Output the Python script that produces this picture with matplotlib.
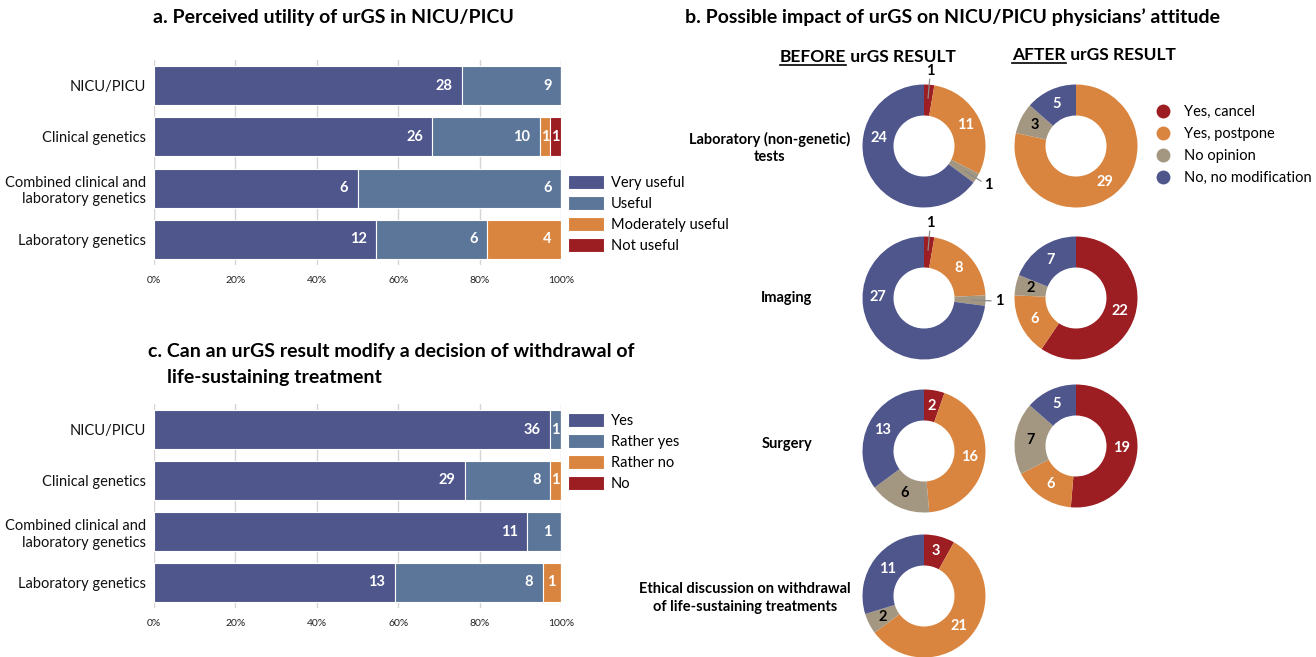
import matplotlib
matplotlib.use("Agg")
import matplotlib.pyplot as plt
from matplotlib.lines import Line2D
import numpy as np

W, H = 1316, 657
plt.rcParams['font.family'] = ['Lato', 'DejaVu Sans']

# palette
C_DARK = '#4e568c'
C_STEEL = '#5b7699'
C_ORANGE = '#d98540'
C_RED = '#9c1d22'
C_GREY = '#a39781'

# ---- data -------------------------------------------------------------
groups = ["NICU/PICU", "Clinical genetics",
          "Combined clinical and\nlaboratory genetics", "Laboratory genetics"]

utility_levels = ["Very useful", "Useful", "Moderately useful", "Not useful"]
very_useful = [28, 26, 6, 12]
useful = [9, 10, 6, 6]
moderately_useful = [0, 1, 0, 4]
not_useful = [0, 1, 0, 0]

withdrawal_levels = ["Yes", "Rather yes", "Rather no", "No"]
wd_yes = [36, 29, 11, 13]
wd_rather_yes = [1, 8, 1, 8]
wd_rather_no = [0, 1, 0, 1]
wd_no = [0, 0, 0, 0]

pct_ticks = [0, 20, 40, 60, 80, 100]

impact_levels = ["Yes, cancel", "Yes, postpone", "No opinion", "No, no modification"]
lab_before = [1, 11, 1, 24]
lab_after = [0, 29, 3, 5]
imaging_before = [1, 8, 1, 27]
imaging_after = [22, 6, 2, 7]
surgery_before = [2, 16, 6, 13]
surgery_after = [19, 6, 7, 5]
ethics_before = [3, 21, 2, 11]

impact_rows = ["Laboratory (non-genetic)\ntests", "Imaging", "Surgery",
               "Ethical discussion on withdrawal\nof life-sustaining treatments"]

# ---- helpers ----------------------------------------------------------
fig = plt.figure(figsize=(W / 100, H / 100), dpi=100)


def fx(x):
    return x / W


def fy(y):
    return 1 - y / H


def stacked_panel(top, bottom, series, levels, colors, legend_top):
    ax = fig.add_axes([fx(154), fy(bottom), fx(561) - fx(154), fy(top) - fy(bottom)])
    data = np.array(series, dtype=float)
    totals = data.sum(axis=0)
    pct = data / totals * 100
    y = np.arange(len(groups))
    left = np.zeros(len(groups))
    handles = []
    for vals, p, lab, col in zip(data, pct, levels, colors):
        bars = ax.barh(y, p, left=left, height=0.76, color=col, edgecolor='white',
                       linewidth=0.8, label=lab, zorder=2)
        handles.append(bars.patches[0])
        for yi, v, l0, w in zip(y, vals, left, p):
            if v == 0:
                continue
            if w < 5:
                ax.text(l0 + w / 2, yi, f"{int(v)}", ha='center', va='center',
                        color='white', fontsize=10.5, fontweight='bold', zorder=3)
            else:
                ax.text(l0 + w - 2.3, yi, f"{int(v)}", ha='right', va='center',
                        color='white', fontsize=10.5, fontweight='bold', zorder=3)
        left += p
    ax.set_xlim(0, 100)
    ax.set_ylim(len(groups) - 0.5, -0.5)
    ax.set_yticks(y)
    ax.set_yticklabels(groups, fontsize=10.5, linespacing=1.25)
    ax.set_xticks(pct_ticks)
    ax.set_xticklabels([f"{t}%" for t in pct_ticks])
    ax.tick_params(axis='x', length=0, labelsize=7.5, pad=8, colors='#222222')
    ax.tick_params(axis='y', length=0, pad=6, colors='#111111')
    ax.grid(axis='x', color='#d9d4d4', linewidth=1, zorder=0)
    for s in ax.spines.values():
        s.set_visible(False)
    fig.legend(handles, levels, loc='upper left',
               bbox_to_anchor=(fx(568), fy(legend_top)),
               bbox_transform=fig.transFigure, frameon=False, fontsize=10.5,
               handlelength=2.45, handleheight=1.1, handletextpad=0.5,
               labelspacing=0.42, borderpad=0, borderaxespad=0)
    return ax


# ---- panel a ----------------------------------------------------------
fig.text(fx(153), fy(17), "a. Perceived utility of urGS in NICU/PICU",
         fontsize=14, fontweight='bold', ha='left', va='center')
stacked_panel(60, 265, [very_useful, useful, moderately_useful, not_useful],
              utility_levels, [C_DARK, C_STEEL, C_ORANGE, C_RED], 175)

# ---- panel c ----------------------------------------------------------
fig.text(fx(148), fy(352), "c. Can an urGS result modify a decision of withdrawal of",
         fontsize=14, fontweight='bold', ha='left', va='center')
fig.text(fx(167), fy(377), "life-sustaining treatment",
         fontsize=14, fontweight='bold', ha='left', va='center')
stacked_panel(404, 608, [wd_yes, wd_rather_yes, wd_rather_no, wd_no],
              withdrawal_levels, [C_DARK, C_STEEL, C_ORANGE, C_RED], 413)

# ---- panel b ----------------------------------------------------------
fig.text(fx(685), fy(17), "b. Possible impact of urGS on NICU/PICU physicians\u2019 attitude",
         fontsize=14, fontweight='bold', ha='left', va='center')

renderer = fig.canvas.get_renderer()
for x0, base, word in [(780, 62, "BEFORE"), (1012, 60, "AFTER")]:
    t1 = fig.text(fx(x0), fy(base), word, fontsize=12.5, fontweight='bold',
                  ha='left', va='baseline')
    bb = t1.get_window_extent(renderer)
    fig.text(bb.x1 / W, fy(base), " urGS RESULT", fontsize=12.5, fontweight='bold',
             ha='left', va='baseline')
    fig.add_artist(Line2D([bb.x0 / W, bb.x1 / W], [fy(base + 2.5)] * 2,
                          color='black', linewidth=1.2))

dax = fig.add_axes([0, 0, 1, 1])
impact_colors = [C_RED, C_ORANGE, C_GREY, C_DARK]
R_OUT, RING = 61.5, 31

# counts, centre (x, y from top), manual label angles for crowded slices
donuts = [
    (lab_before, 924, 146, {3: 280}),
    (lab_after, 1076, 146, {}),
    (imaging_before, 924, 298, {3: 271}),
    (imaging_after, 1076, 298, {}),
    (surgery_before, 924, 451, {}),
    (surgery_after, 1076, 446, {}),
    (ethics_before, 924, 596, {}),
]

for counts, cx, cy, overrides in donuts:
    cyu = H - cy
    dax.pie(counts, colors=impact_colors, startangle=90, counterclock=False,
            radius=R_OUT, center=(cx, cyu),
            wedgeprops=dict(width=RING, edgecolor='none'))
    total = sum(counts)
    cum = 0
    for i, v in enumerate(counts):
        if v == 0:
            continue
        span = v / total * 360
        mid = (cum + v / 2) / total * 360
        cum += v
        if span < 15:
            a = np.deg2rad(mid)
            r0, r1, rt = 48, 67, 75
            dax.plot([cx + r0 * np.sin(a), cx + r1 * np.sin(a)],
                     [cyu + r0 * np.cos(a), cyu + r1 * np.cos(a)],
                     color='#8c8c8c', linewidth=0.9)
            dax.text(cx + rt * np.sin(a), cyu + rt * np.cos(a), f"{v}",
                     ha='center', va='center', fontsize=10.5, fontweight='bold',
                     color='black')
        else:
            ang = np.deg2rad(overrides.get(i, mid))
            rm = R_OUT - RING / 2
            dax.text(cx + rm * np.sin(ang), cyu + rm * np.cos(ang), f"{v}",
                     ha='center', va='center', fontsize=10.5, fontweight='bold',
                     color='black' if i == 2 else 'white')

row_pos = [(770, 148), (787, 298), (787, 444), (745, 598)]
for (rx, ry), name in zip(row_pos, impact_rows):
    dax.text(rx, H - ry, name, ha='center', va='center', fontsize=10.5,
             fontweight='bold', linespacing=1.3)

legend_handles = [Line2D([], [], linestyle='none', marker='o', markersize=10,
                         markerfacecolor=c, markeredgecolor='none')
                  for c in impact_colors]
fig.legend(legend_handles, impact_levels, loc='upper left',
           bbox_to_anchor=(fx(1156), fy(105)), bbox_transform=fig.transFigure,
           frameon=False, fontsize=10.5, handlelength=1.0, handletextpad=0.9,
           labelspacing=0.55, borderpad=0, borderaxespad=0)

dax.set_xlim(0, W)
dax.set_ylim(0, H)
dax.set_aspect('auto')
dax.axis('off')

fig.savefig("out.png", dpi=100)
